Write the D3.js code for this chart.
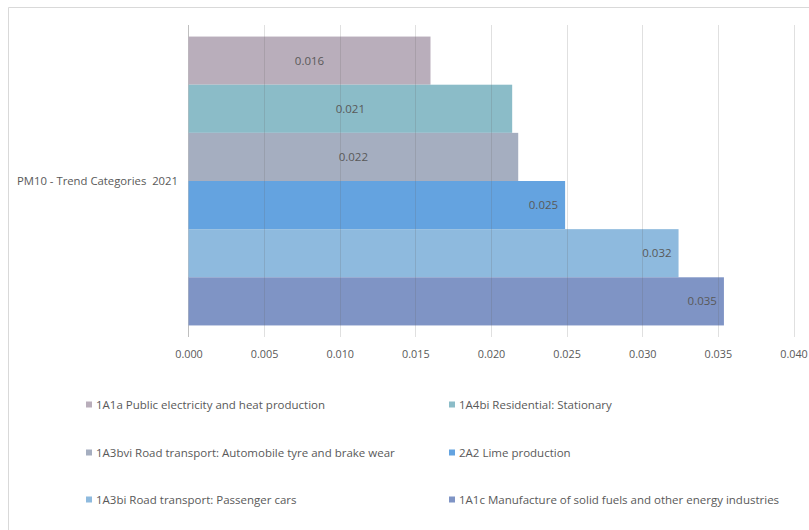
<!DOCTYPE html>
<html>
<head>
<meta charset="utf-8">
<script src="https://cdn.jsdelivr.net/npm/d3@7"></script>
<style>
  html, body { margin: 0; padding: 0; background: #fff; }
  svg { display: block; }
  text { font-family: "Open Sans", "Liberation Sans", sans-serif; fill: #595959; }
</style>
</head>
<body>
<svg id="chart" width="809" height="530"></svg>
<script>
// ---- data ----
const categories = ["PM10 - Trend Categories  2021"];
const seriesNames = [
  "1A1a Public electricity and heat production",
  "1A4bi Residential: Stationary",
  "1A3bvi Road transport: Automobile tyre and brake wear",
  "2A2 Lime production",
  "1A3bi Road transport: Passenger cars",
  "1A1c Manufacture of solid fuels and other energy industries"
];
const seriesValues = [0.0160, 0.0214, 0.0218, 0.0249, 0.0324, 0.0354];
const seriesColors = ["#b9aebb", "#8bbcc8", "#a5aec0", "#64a3e0", "#8ebade", "#7f94c5"];
const xTicks = [0, 0.005, 0.010, 0.015, 0.020, 0.025, 0.030, 0.035, 0.040];
const labelModes = ["middle", "middle", "middle", "end", "end", "end"];

// ---- drawing ----
const svg = d3.select("#chart");

// outer frame (cropped on right/bottom)
svg.append("path")
  .attr("d", "M8.5,540 L8.5,7.5 L820,7.5")
  .attr("fill", "none").attr("stroke", "#d9d9d9").attr("stroke-width", 1);

const x = d3.scaleLinear().domain([0, 0.04]).range([188.5, 793.5]);
const y0 = d3.scaleBand().domain(categories).range([25, 337]).paddingInner(0).paddingOuter(0.04);
const y1 = d3.scaleBand().domain(seriesNames).range([0, y0.bandwidth()]).padding(0);

// left axis line
svg.append("line")
  .attr("x1", x(0)).attr("x2", x(0))
  .attr("y1", 25).attr("y2", 337)
  .attr("stroke", "#bfbfbf");

// bars
const g = svg.append("g");
categories.forEach(cat => {
  seriesNames.forEach((s, i) => {
    g.append("rect")
      .attr("x", x(0))
      .attr("y", y0(cat) + y1(s))
      .attr("width", x(seriesValues[i]) - x(0))
      .attr("height", y1.bandwidth())
      .attr("fill", seriesColors[i]);
  });
});

// gridlines (drawn over bars, faint)
svg.append("g").selectAll("line")
  .data(xTicks.slice(1))
  .join("line")
  .attr("x1", d => Math.round(x(d)) + 0.5)
  .attr("x2", d => Math.round(x(d)) + 0.5)
  .attr("y1", 25).attr("y2", 337)
  .attr("stroke", "rgba(100,100,100,0.2)");

// x-axis tick labels
const xAxis = d3.axisBottom(x).tickValues(xTicks).tickFormat(d3.format(".3f")).tickSize(0).tickPadding(0);
const ax = svg.append("g").attr("transform", "translate(0,349)").call(xAxis);
ax.select(".domain").remove();
ax.selectAll("text")
  .attr("dy", "0.35em").attr("y", 5)
  .style("font-family", "'Open Sans', sans-serif")
  .style("font-size", "10.8px")
  .attr("fill", "#595959");

// value labels
categories.forEach(cat => {
  seriesNames.forEach((s, i) => {
    const v = seriesValues[i];
    const cy = y0(cat) + y1(s) + y1.bandwidth() / 2;
    const mode = labelModes[i];
    svg.append("text")
      .attr("x", mode === "middle" ? (x(0) + x(v)) / 2 : x(v) - 7)
      .attr("y", cy)
      .attr("dy", "0.35em")
      .attr("text-anchor", mode)
      .style("font-size", "11.5px")
      .attr("fill", "#404040")
      .text(d3.format(".3f")(v));
  });
});

// category label
categories.forEach(cat => {
  svg.append("text")
    .attr("x", 178)
    .attr("y", y0(cat) + y0.bandwidth() / 2)
    .attr("dy", "0.35em")
    .attr("text-anchor", "end")
    .style("font-size", "11.3px")
    .style("white-space", "pre")
    .text(cat);
});

// legend
const legendCols = [86, 449];
const legendRows = [405, 453, 500];
seriesNames.forEach((s, i) => {
  const lx = legendCols[i % 2];
  const ly = legendRows[Math.floor(i / 2)];
  svg.append("rect")
    .attr("x", lx).attr("y", ly - 3.5)
    .attr("width", 6).attr("height", 6)
    .attr("fill", seriesColors[i]);
  svg.append("text")
    .attr("x", lx + 10).attr("y", ly)
    .attr("dy", "0.35em")
    .style("font-size", "11.5px")
    .text(s);
});
</script>
</body>
</html>
